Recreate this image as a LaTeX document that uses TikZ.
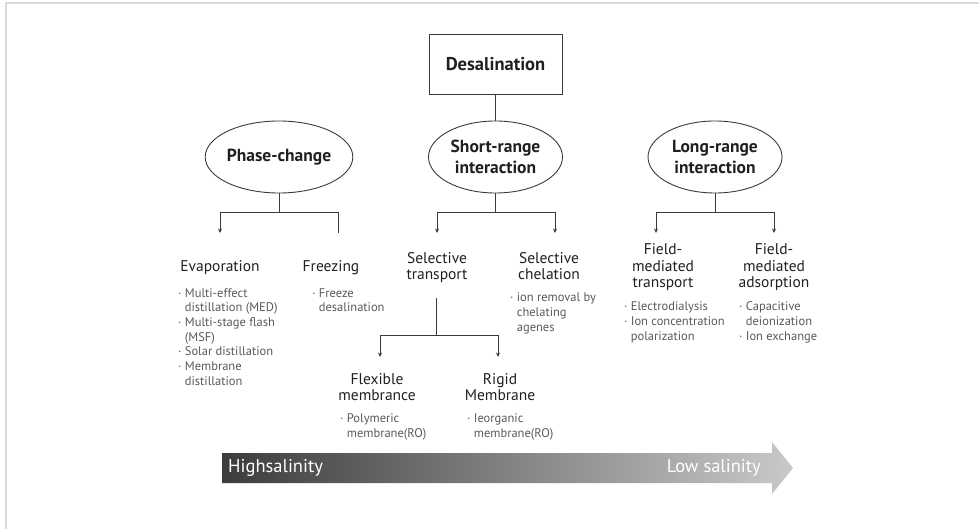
\documentclass[tikz,border=0pt]{standalone}
\usepackage{fontspec}
\setmainfont{PT Sans}
\usetikzlibrary{shapes.geometric,arrows.meta}
\definecolor{ink}{HTML}{231F20}
\definecolor{desc}{HTML}{58595B}
\definecolor{linec}{HTML}{3A3A3A}
\definecolor{framec}{HTML}{DADADA}
\definecolor{gradL}{HTML}{3C3C3E}
\definecolor{gradR}{HTML}{C8C9CB}
\begin{document}
\begin{tikzpicture}[x=1pt,y=-1pt,
 conn/.style={draw=linec, line width=0.9pt},
 arr/.style={conn,-{Stealth[length=4.5pt,width=4pt]}},
 boxnode/.style={draw=linec,line width=0.9pt,minimum width=133pt,minimum height=60pt,inner sep=0pt,font=\bfseries\fontsize{18.5}{20}\selectfont,text=ink},
 ell/.style={ellipse,draw=linec,line width=0.9pt,minimum width=134pt,minimum height=72pt,inner sep=0pt,align=center,font=\bfseries\fontsize{17.5}{21}\selectfont,text=ink},
 head/.style={align=center,inner sep=0pt,font=\fontsize{15.5}{16.5}\selectfont,text=ink,anchor=base},
 dsc/.style={align=left,inner sep=0pt,font=\fontsize{12.5}{14.7}\selectfont,text=desc,anchor=base west},
]
\useasboundingbox (0,0) rectangle (979,529);
\draw[framec, line width=2pt] (979,3) -- (6,3) -- (6,529);

% top
\node[boxnode] (desal) at (495.5,64) {Desalination};
\node[ell] (phase) at (279,157) {Phase-change};
\node[ell] (short) at (495.5,157) {Short-range\\interaction};
\node[ell] (long) at (715,157) {Long-range\\interaction};
\draw[conn] (desal.south) -- (short.north);

% phase-change tree
\coordinate (pbm) at (279,212);
\coordinate (pbl) at (220,212);
\coordinate (pbr) at (338,212);
\coordinate (evin) at (220,233);
\coordinate (frin) at (338,233);
\draw[conn] (phase.south) -- (pbm);
\draw[conn] (pbl) -- (pbr);
\draw[arr] (pbl) -- (evin);
\draw[conn] (pbr) -- (frin);

% short-range tree
\coordinate (sbm) at (495.5,212);
\coordinate (sbl) at (437,212);
\coordinate (sbr) at (555,212);
\coordinate (stin) at (437,233);
\coordinate (scin) at (555,233);
\draw[conn] (short.south) -- (sbm);
\draw[conn] (sbl) -- (sbr);
\draw[arr] (sbl) -- (stin);
\draw[arr] (sbr) -- (scin);

% long-range tree
\coordinate (lbm) at (715,212);
\coordinate (lbl) at (656,212);
\coordinate (lbr) at (774,212);
\coordinate (ftin) at (656,233);
\coordinate (fain) at (774,233);
\draw[conn] (long.south) -- (lbm);
\draw[conn] (lbl) -- (lbr);
\draw[arr] (lbl) -- (ftin);
\draw[arr] (lbr) -- (fain);

% headings (base = baseline of last line)
\node[head] (evap) at (220,271.7) {Evaporation};
\node[head] (freez) at (331,271.7) {Freezing};
\node[head] (seltr) at (437,279.5) {Selective\\transport};
\node[head] (selch) at (549,279.5) {Selective\\chelation};
\node[head] (fmt) at (663,287.7) {Field-\\mediated\\transport};
\node[head] (fma) at (774,287.7) {Field-\\mediated\\adsorption};
\node[head] (flex) at (377,400.7) {Flexible\\membrance};
\node[head] (rigid) at (500,400.7) {Rigid\\Membrane};

% selective transport subtree
\coordinate (tt) at (436,298);
\coordinate (tbm) at (436,335);
\coordinate (tbl) at (380,335);
\coordinate (tbr) at (498,335);
\coordinate (flin) at (380,357);
\coordinate (rgin) at (498,357);
\draw[conn] (tt) -- (tbm);
\draw[conn] (tbl) -- (tbr);
\draw[arr] (tbl) -- (flin);
\draw[arr] (tbr) -- (rgin);

% descriptions (base = baseline of last line)
\node[dsc] (evapd) at (178,385.3) {· Multi-effect\\\phantom{· }distillation (MED)\\· Multi-stage flash\\\phantom{· }(MSF)\\· Solar distillation\\· Membrane\\\phantom{· }distillation};
\node[dsc] (freezd) at (312,311.7) {· Freeze\\\phantom{· }desalination};
\node[dsc] (selchd) at (510,331) {· ion removal by\\\phantom{· }chelating\\\phantom{· }agenes};
\node[dsc] (fmtd) at (624,340) {· Electrodialysis\\· Ion concentration\\\phantom{· }polarization};
\node[dsc] (fmad) at (739,340) {· Capacitive\\\phantom{· }deionization\\· Ion exchange};
\node[dsc] (flexd) at (340,437.5) {· Polymeric\\\phantom{· }membrane(RO)};
\node[dsc] (rigidd) at (467,437.5) {· Ieorganic\\\phantom{· }membrane(RO)};

% salinity arrow
\shade[left color=gradL, right color=gradR] (222,453) -- (772,453) -- (772,442) -- (793,468) -- (772,494) -- (772,483) -- (222,483) -- cycle;
\node[anchor=west, inner sep=0pt, text=white, font=\fontsize{18.5}{20}\selectfont] (hs) at (228,468) {Highsalinity};
\node[anchor=east, inner sep=0pt, text=white, font=\fontsize{18.5}{20}\selectfont] (ls) at (761,468) {Low salinity};
\end{tikzpicture}
\end{document}
